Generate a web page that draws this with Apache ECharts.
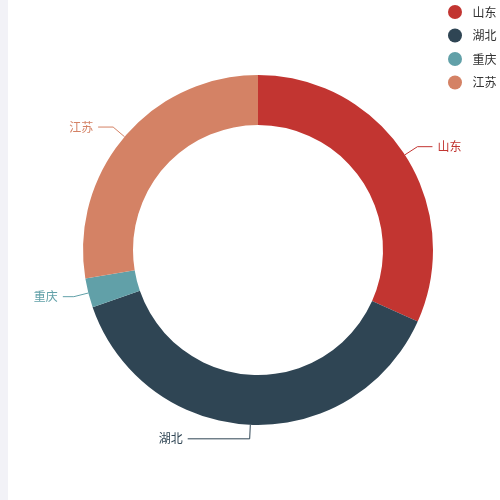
<!DOCTYPE html>
<html>
<head>
<meta charset="utf-8">
<script src="https://cdn.jsdelivr.net/npm/echarts@6/dist/echarts.min.js"></script>
<style>
  html, body { margin: 0; padding: 0; background: #fff; }
  #side { position: absolute; left: 0; top: 0; width: 8px; height: 500px; background: #f2f2f7; }
  #main { position: absolute; left: 0; top: 0; width: 500px; height: 500px; }
</style>
</head>
<body>
<div id="side"></div>
<div id="main"></div>
<script>
// 省份和数值
const provinces = ['山东', '湖北', '重庆', '江苏']
const amounts = [317, 380, 27, 276]
const colors = ['#c23531', '#2f4554', '#61a0a8', '#d48265']

const chart = echarts.init(document.getElementById('main'))
const option = {
  color: colors,
  textStyle: { fontFamily: '"Noto Sans CJK SC", sans-serif' },
  legend: {
    orient: 'vertical',
    left: 443,
    top: 0,
    icon: 'circle',
    itemWidth: 25,
    itemHeight: 14,
    itemGap: 9.5,
    textStyle: { color: '#333', fontSize: 12 },
    data: provinces
  },
  series: [{
    type: 'pie',
    center: [258, 250],
    radius: [125, 175],
    startAngle: 90,
    avoidLabelOverlap: true,
    label: {
      show: true,
      position: 'outside',
      color: 'inherit',
      fontSize: 12
    },
    labelLine: { length: 15, length2: 15, smooth: false },
    itemStyle: { borderWidth: 0 },
    emphasis: { scale: false },
    data: provinces.map((name, i) => {
      const item = { name, value: amounts[i] }
      // 湖北的标签往左拉
      if (name === '湖北') item.labelLine = { length: 14, length2: 62 }
      if (name === '重庆') item.labelLine = { length: 15, length2: 11 }
      return item
    })
  }]
}
chart.setOption(option)
</script>
</body>
</html>
